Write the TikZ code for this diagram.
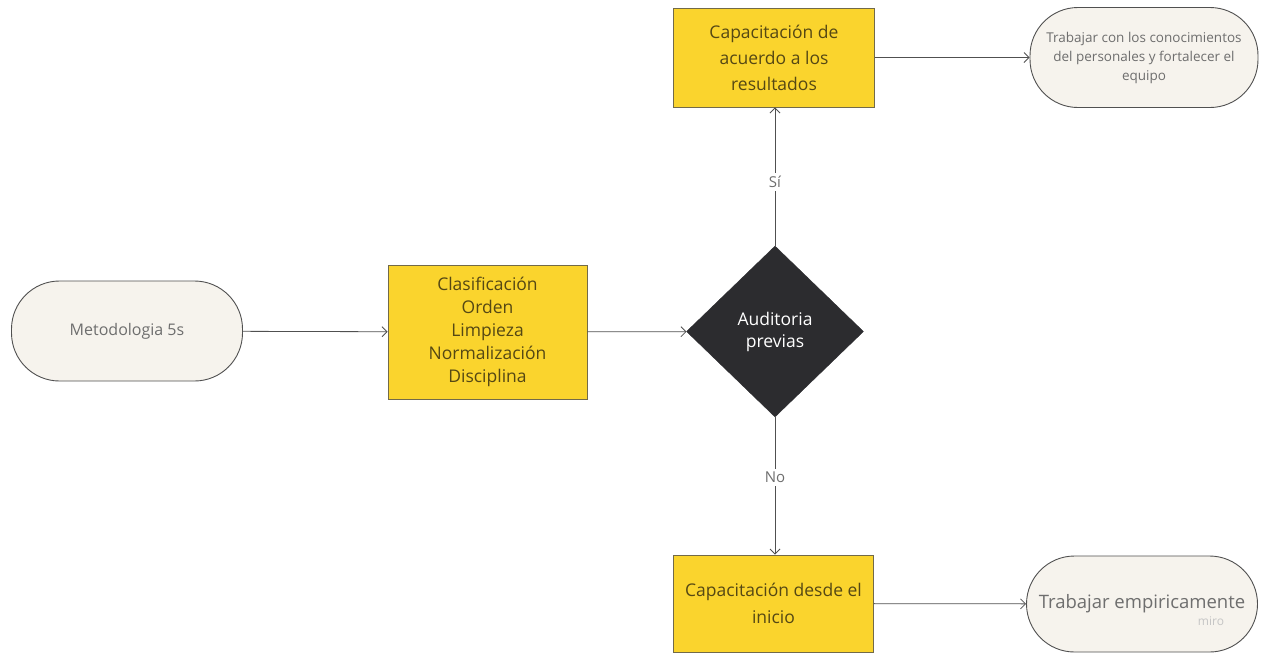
\documentclass[tikz,border=0pt]{standalone}
\usepackage{fontspec}
\setmainfont{Open Sans}
\usetikzlibrary{shapes.geometric,arrows.meta}
\definecolor{boxyellow}{RGB}{250,212,45}
\definecolor{boxtext}{RGB}{85,72,20}
\definecolor{termfill}{RGB}{246,243,237}
\definecolor{termtext}{RGB}{110,110,110}
\definecolor{diafill}{RGB}{44,44,47}
\definecolor{linecol}{RGB}{80,80,80}
\tikzset{
  x=1pt,y=1pt,
  terminal/.style={draw=linecol,line width=0.9pt,fill=termfill,rectangle,rounded corners=48pt,
    minimum height=100pt,text=termtext,align=center,inner sep=2pt,font=\fontsize{16}{19}\selectfont},
  yellowbox/.style={draw=linecol!80!boxyellow,line width=0.9pt,fill=boxyellow,rectangle,text=boxtext,
    align=center,inner sep=1pt,font=\fontsize{17.5}{23}\selectfont},
  decision/.style={diamond,fill=diafill,draw=diafill,minimum width=177pt,minimum height=171pt,
    inner sep=0pt,text=white,align=center,font=\fontsize{17.5}{22}\selectfont},
  conn/.style={draw=linecol,line width=0.8pt,-{Straight Barb[length=5pt,width=10pt]}},
  edgelabel/.style={fill=white,text=termtext,font=\fontsize{15}{17}\selectfont,inner sep=3pt}
}
\begin{document}
\begin{tikzpicture}
\useasboundingbox (0,0) rectangle (1265,-654);
\node[terminal,minimum width=231pt] (start) at (127,-331) {Metodologia 5s};
\node[yellowbox,minimum width=199pt,minimum height=134pt] (fives) at (487.5,-332)
  {Clasificación\\Orden\\Limpieza\\Normalización\\Disciplina};
\node[decision] (audit) at (775,-331.5) {Auditoria\\previas};
\node[yellowbox,minimum width=201pt,minimum height=99pt,font=\fontsize{17.5}{26}\selectfont] (capres) at (774,-57.5)
  {Capacitación de\\acuerdo a los\\resultados};
\node[yellowbox,minimum width=200pt,minimum height=97pt,font=\fontsize{17.5}{27}\selectfont] (capini) at (773.5,-603.5)
  {Capacitación desde el\\inicio};
\node[terminal,minimum width=228pt,font=\fontsize{13.5}{19}\selectfont] (trabcon) at (1144,-57.5)
  {Trabajar con los conocimientos\\del personales y fortalecer el\\equipo};
\node[terminal,minimum width=231pt,minimum height=96pt,font=\fontsize{18.5}{21}\selectfont] (trabemp) at (1142,-604)
  {Trabajar empiricamente};
\node[text=termtext!40,font=\fontsize{12}{14}\selectfont,inner sep=0pt] (miro) at (1211,-621) {miro};

\draw[conn] (start) -- (fives);
\draw[conn] (fives) -- (audit);
\draw[conn] (audit.north) -- node[edgelabel,pos=0.46] {Sí} (audit.north |- capres.south);
\draw[conn] (audit.south) -- node[edgelabel,pos=0.44] {No} (audit.south |- capini.north);
\draw[conn] (capres) -- (trabcon);
\draw[conn] (capini) -- (trabemp);
\end{tikzpicture}
\end{document}
